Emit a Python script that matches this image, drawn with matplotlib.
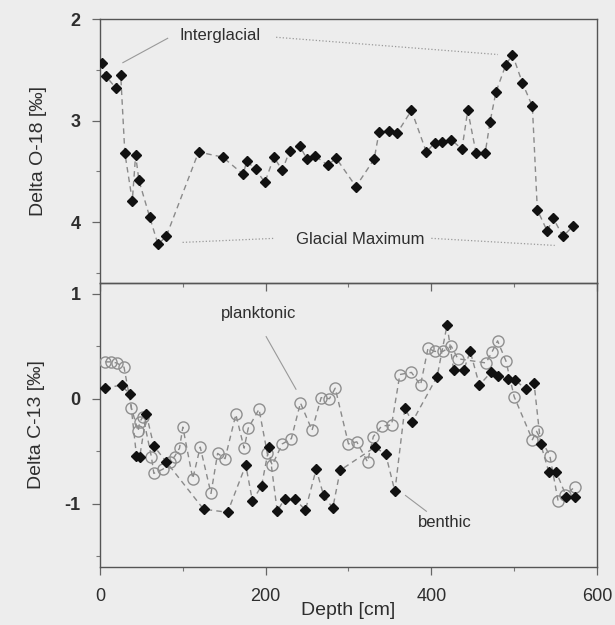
import numpy as np
import matplotlib
matplotlib.use("Agg")
import matplotlib.pyplot as plt

plt.rcParams['font.family'] = ['Liberation Sans', 'DejaVu Sans']
plt.rcParams['axes.unicode_minus'] = False

# delta O-18 (top panel)
o18_depth = [2, 7, 19, 25, 30, 39, 43, 47, 60, 70, 80, 119, 148, 173, 177, 188, 199,
             210, 220, 229, 241, 250, 260, 275, 285, 309, 331, 337, 349, 359, 376,
             394, 404, 413, 424, 437, 444, 454, 465, 471, 478, 490, 498, 510, 522,
             528, 540, 547, 559, 571]
o18_val = [2.43, 2.56, 2.68, 2.55, 3.32, 3.79, 3.34, 3.59, 3.95, 4.22, 4.14, 3.31,
           3.36, 3.53, 3.40, 3.48, 3.61, 3.36, 3.49, 3.30, 3.25, 3.38, 3.35, 3.44,
           3.37, 3.65, 3.38, 3.11, 3.10, 3.12, 2.90, 3.31, 3.22, 3.21, 3.19, 3.28,
           2.90, 3.32, 3.32, 3.01, 2.72, 2.45, 2.35, 2.63, 2.86, 3.88, 4.09, 3.96,
           4.14, 4.04]

# delta C-13 benthic
ben_depth = [6, 26, 36, 44, 48, 56, 65, 80, 125, 154, 176, 184, 195, 204, 214, 223,
             235, 248, 261, 270, 281, 290, 332, 345, 356, 368, 377, 407, 419, 427,
             439, 447, 458, 472, 480, 492, 501, 514, 524, 532, 542, 551, 563, 573]
ben_val = [0.10, 0.13, 0.04, -0.54, -0.55, -0.15, -0.45, -0.60, -1.05, -1.08, -0.63,
           -0.97, -0.83, -0.46, -1.07, -0.95, -0.95, -1.06, -0.67, -0.92, -1.04,
           -0.68, -0.46, -0.53, -0.88, -0.09, -0.22, 0.21, 0.70, 0.27, 0.27, 0.45,
           0.13, 0.25, 0.22, 0.19, 0.18, 0.09, 0.15, -0.43, -0.70, -0.70, -0.93,
           -0.93]

# delta C-13 planktonic
plk_depth = [6, 13, 20, 29, 38, 46, 48, 52, 62, 65, 76, 84, 90, 96, 100, 112, 121,
             134, 142, 151, 164, 174, 179, 192, 202, 208, 220, 231, 242, 256, 267,
             277, 284, 300, 310, 323, 330, 340, 352, 362, 376, 387, 396, 404, 414,
             424, 432, 466, 473, 480, 490, 500, 522, 527, 543, 553, 561, 573]
plk_val = [0.35, 0.35, 0.34, 0.30, -0.09, -0.31, -0.22, -0.17, -0.55, -0.71, -0.67,
           -0.60, -0.55, -0.47, -0.27, -0.76, -0.46, -0.90, -0.52, -0.57, -0.15,
           -0.47, -0.28, -0.10, -0.52, -0.63, -0.43, -0.38, -0.04, -0.30, 0.01,
           0.00, 0.10, -0.43, -0.41, -0.60, -0.36, -0.26, -0.25, 0.23, 0.25, 0.13,
           0.48, 0.45, 0.45, 0.50, 0.38, 0.34, 0.44, 0.55, 0.36, 0.02, -0.39, -0.31,
           -0.54, -0.97, -0.92, -0.84]

bg = '#ededed'
txt = '#2e2e2e'
gray = '#8a8a8a'

fig = plt.figure(figsize=(6.15, 6.25), dpi=100, facecolor=bg)
ax_top = fig.add_axes([0.1626, 0.5472, 0.8081, 0.4224])
ax_bot = fig.add_axes([0.1626, 0.0928, 0.8081, 0.4544])

for ax in (ax_top, ax_bot):
    ax.set_facecolor('none')
    ax.set_xlim(0, 600)
    ax.set_xticks([0, 200, 400, 600])
    ax.set_xticks([100, 300, 500], minor=True)
    for s in ax.spines.values():
        s.set_color('#555555')
        s.set_linewidth(1.0)
    ax.tick_params(axis='both', which='major', direction='out', length=6,
                   width=0.9, colors='#666666', labelcolor=txt, labelsize=13, pad=8)
    ax.tick_params(axis='both', which='minor', direction='out', length=3,
                   width=0.8, colors='#777777')
    for lab in ax.get_yticklabels():
        lab.set_fontweight('bold')

# top panel
ax_top.plot(o18_depth, o18_val, ls=(0, (4, 3)), color=gray, lw=1.0,
            marker='D', ms=5, mfc='#111111', mec='#111111', zorder=3)
ax_top.set_ylim(4.6, 2)
ax_top.set_yticks([2, 3, 4])
ax_top.set_yticks([2.5, 3.5, 4.5], minor=True)
for lab in ax_top.get_yticklabels():
    lab.set_fontweight('bold')
ax_top.tick_params(axis='x', labelbottom=False)
ax_top.set_ylabel('Delta O-18 [‰]', fontsize=14, color=txt, labelpad=17)

ax_top.text(96, 2.16, 'Interglacial', fontsize=12, color=txt, va='center')
ax_top.plot([27.6, 81.7], [2.43, 2.19], color='#999999', lw=0.8)
ax_top.plot([212.6, 480.5], [2.18, 2.35], color='#999999', lw=0.9, ls=':')
ax_top.text(236.6, 4.17, 'Glacial Maximum', fontsize=12, color=txt, va='center')
ax_top.plot([99.7, 211.4], [4.20, 4.16], color='#999999', lw=0.9, ls=':')
ax_top.plot([400, 549], [4.16, 4.23], color='#999999', lw=0.9, ls=':')

# bottom panel
ax_bot.plot(plk_depth, plk_val, ls=(0, (4, 3)), color=gray, lw=1.0,
            marker='o', ms=8, mfc='none', mec='#8f8f8f', mew=1.0, zorder=3)
ax_bot.plot(ben_depth, ben_val, ls=(0, (4, 3)), color=gray, lw=1.0,
            marker='D', ms=5, mfc='#111111', mec='#111111', zorder=4)
ax_bot.set_ylim(-1.6, 1.1)
ax_bot.set_yticks([-1, 0, 1])
ax_bot.set_yticks([-1.5, -0.5, 0.5], minor=True)
for lab in ax_bot.get_yticklabels():
    lab.set_fontweight('bold')
ax_bot.tick_params(axis='x', which='major', pad=9)
ax_bot.set_ylabel('Delta C-13 [‰]', fontsize=14, color=txt, labelpad=14)
ax_bot.set_xlabel('Depth [cm]', fontsize=14, color=txt, labelpad=-2)

ax_bot.text(146.5, 0.81, 'planktonic', fontsize=12, color=txt, va='center')
ax_bot.plot([200.6, 236.6], [0.59, 0.09], color='#999999', lw=0.8)
ax_bot.text(384, -1.18, 'benthic', fontsize=12, color=txt, va='center')
ax_bot.plot([368.8, 394], [-0.92, -1.07], color='#999999', lw=0.8)

fig.savefig('out.png', dpi=100, facecolor=bg)
